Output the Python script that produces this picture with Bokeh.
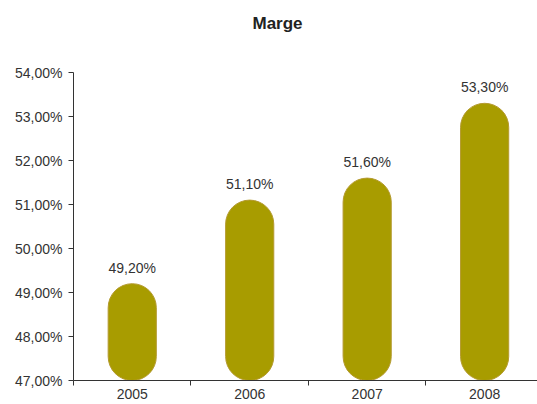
from bokeh.plotting import figure
from bokeh.models import Range1d, FixedTicker, ColumnDataSource, Title
from bokeh.embed import file_html
from bokeh.resources import INLINE
from bokeh.core.properties import value

years = ["2005", "2006", "2007", "2008"]
margins = [49.2, 51.1, 51.6, 53.3]
value_labels = ["49,20%", "51,10%", "51,60%", "53,30%"]
y_ticks = [47, 48, 49, 50, 51, 52, 53, 54]
y_tick_labels = ["47,00%", "48,00%", "49,00%", "50,00%", "51,00%", "52,00%", "53,00%", "54,00%"]

xs = [i + 0.5 for i in range(len(years))]
src = ColumnDataSource(dict(x=xs, top=margins, lab=value_labels))

FONT = "Liberation Sans"
TXT = "#333333"

p = figure(width=537, height=404, output_backend="svg", toolbar_location=None,
           x_range=Range1d(0, 3.95), y_range=Range1d(47, 54),
           min_border_left=73, min_border_right=0, min_border_top=72, min_border_bottom=24)
p.outline_line_color = None
p.grid.visible = False
p.background_fill_color = "white"

# blank spacer between title and plot area
p.add_layout(Title(text=" ", text_font_size="34px", standoff=0), "above")
p.add_layout(Title(text="Marge", text_font=FONT, text_font_size="17px", text_font_style="bold",
                   text_color="#222222", align="left", offset=179, standoff=0), "above")

p.vbar(x="x", top="top", bottom=47, width=0.41, source=src,
       fill_color="#A89C00", line_color="#B49A30", line_width=1, border_radius=24)

p.text(x="x", y="top", text="lab", source=src, text_align="center", text_baseline="bottom",
       y_offset=-8, text_font=value(FONT), text_font_size="14px", text_color=TXT)

# y axis
p.yaxis.ticker = FixedTicker(ticks=y_ticks)
p.yaxis.major_label_overrides = {t: l for t, l in zip(y_ticks, y_tick_labels)}
p.yaxis.minor_tick_line_color = None
p.yaxis.major_tick_in = 0
p.yaxis.major_tick_out = 5
p.yaxis.major_label_standoff = 6
p.yaxis.axis_line_color = "#333333"
p.yaxis.major_tick_line_color = "#333333"
p.yaxis.major_label_text_font = FONT
p.yaxis.major_label_text_font_size = "14px"
p.yaxis.major_label_text_color = TXT

# x axis
p.xaxis.ticker = FixedTicker(ticks=xs, minor_ticks=[0, 1, 2, 3, 4])
p.xaxis.major_label_overrides = {x: y for x, y in zip(xs, years)}
p.xaxis.major_tick_line_color = None
p.xaxis.major_tick_in = 0
p.xaxis.major_tick_out = 5
p.xaxis.minor_tick_in = 0
p.xaxis.minor_tick_out = 5
p.xaxis.minor_tick_line_color = "#333333"
p.xaxis.major_label_standoff = 3
p.xaxis.axis_line_color = "#333333"
p.xaxis.major_label_text_font = FONT
p.xaxis.major_label_text_font_size = "14px"
p.xaxis.major_label_text_color = TXT

open("out.html", "w").write(file_html(p, INLINE))
